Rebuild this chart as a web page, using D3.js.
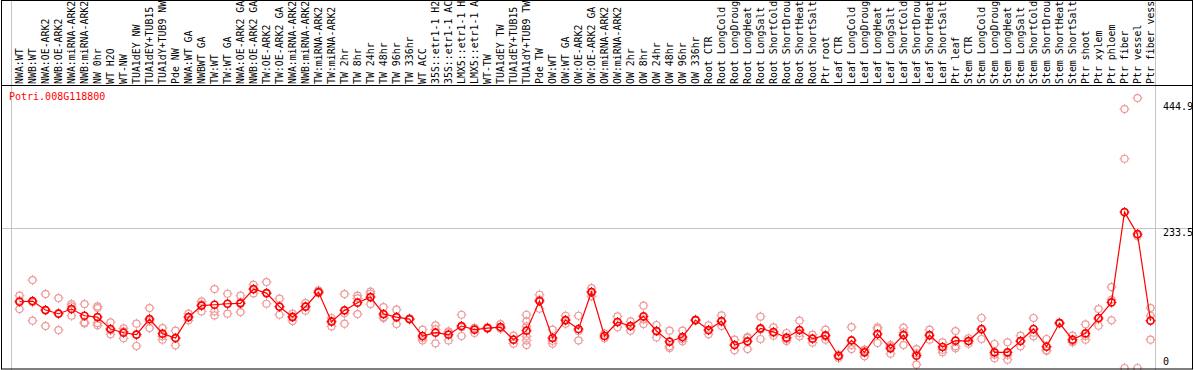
<!DOCTYPE html>
<html>
<head>
<meta charset="utf-8">
<script src="https://cdn.jsdelivr.net/npm/d3@7"></script>
<style>
  body { margin: 0; background: #fff; }
  svg { display: block; }
  .col-label, .axis-label, .title { font-family: "DejaVu Sans Mono", monospace; font-size: 10px; }
  .col-label { font-size: 9.9px; }
</style>
</head>
<body>
<svg id="chart"></svg>
<script>
const geneId = "Potri.008G118800";

const labels = [
  "NWA:WT", "NWB:WT", "NWA:OE-ARK2", "NWB:OE-ARK2", "NWA:miRNA-ARK2", "NWB:miRNA-ARK2",
  "NW 0hr", "WT H2O", "WT-NW", "TUA1dEY NW", "TUA1dEY+TUB15 NW", "TUA1dY+TUB9 NW", "Pde NW",
  "NWA:WT GA", "NWBWT GA", "TW:WT", "TW:WT GA", "NWA:OE-ARK2 GA", "NWB:OE-ARK2 GA",
  "TW:OE-ARK2", "TW:OE-ARK2 GA", "NWA:miRNA-ARK2 GA", "NWB:miRNA-ARK2 GA", "TW:miRNA-ARK2",
  "TW:miRNA-ARK2 GA", "TW 2hr", "TW 8hr", "TW 24hr", "TW 48hr", "TW 96hr", "TW 336hr",
  "WT ACC", "35S::etr1-1 H2O", "35S::etr1-1 ACC", "LMX5::etr1-1 H2O", "LMX5::etr1-1 ACC",
  "WT-TW", "TUA1dEY TW", "TUA1dEY+TUB15 TW", "TUA1dY+TUB9 TW", "Pde TW",
  "OW:WT", "OW:WT GA", "OW:OE-ARK2", "OW:OE-ARK2 GA", "OW:miRNA-ARK2", "OW:miRNA-ARK2 GA",
  "OW 2hr", "OW 8hr", "OW 24hr", "OW 48hr", "OW 96hr", "OW 336hr",
  "Root CTR", "Root LongCold", "Root LongDrought", "Root LongHeat", "Root LongSalt",
  "Root ShortCold", "Root ShortDrought", "Root ShortHeat", "Root ShortSalt", "Ptr root",
  "Leaf CTR", "Leaf LongCold", "Leaf LongDrought", "Leaf LongHeat", "Leaf LongSalt",
  "Leaf ShortCold", "Leaf ShortDrought", "Leaf ShortHeat", "Leaf ShortSalt", "Ptr leaf",
  "Stem CTR", "Stem LongCold", "Stem LongDrought", "Stem LongHeat", "Stem LongSalt",
  "Stem ShortCold", "Stem ShortDrought", "Stem ShortHeat", "Stem ShortSalt", "Ptr shoot",
  "Ptr xylem", "Ptr phloem", "Ptr fiber", "Ptr vessel", "Ptr fiber vessel"
];

// number of samples in each experiment block (separated by grey lines)
const groupSizes = [13, 28, 12, 10, 10, 11, 1, 1, 1, 1];

const means = [
  110.8, 112.0, 96.9, 90.8, 98.6, 87.4, 85.2, 65.2, 59.0, 55.7, 81.9, 57.4, 50.1,
  85.2, 104.2, 105.8, 107.5, 108.1, 132.0, 125.3, 102.5, 85.2, 102.5, 127.0, 77.4,
  96.4, 109.2, 118.6, 90.2, 85.2, 81.9, 53.5, 59.0, 55.7, 70.2, 64.1, 66.8, 68.5,
  47.3, 62.4, 112.0,
  50.1, 80.2, 65.2, 127.0, 53.5, 76.9, 70.2, 86.3, 61.8, 44.0, 51.8, 80.2,
  63.5, 78.5, 38.4, 44.6, 66.3, 60.2, 50.7, 63.5, 49.0, 54.6,
  20.1, 46.2, 26.2, 56.8, 32.9, 55.1, 20.6, 55.1, 35.1, 45.7,
  45.1, 65.2, 26.2, 26.2, 45.1, 65.2, 35.6, 75.2, 47.3, 57.9, 83.6,
  109.7, 260.7, 223.9, 79.1
];

const replicates = [
  [120.9, 98.6, 112.8], [147.0, 79.1, 109.9], [123.7, 70.2, 96.8], [117.0, 63.5, 91.9],
  [106.9, 103.0, 87.4], [106.9, 76.3, 74.6], [103.0, 100.3, 75.2, 71.3], [76.3, 56.3, 63.0],
  [66.3, 49.6, 61.1], [74.1, 36.8, 56.2], [100.3, 66.8, 78.6], [66.8, 52.9, 47.3],
  [62.4, 37.9, 50.0],
  [90.8, 79.7, 85.1], [111.4, 94.7, 106.5], [132.0, 94.7, 88.0], [124.2, 90.8, 107.5],
  [120.9, 93.6, 109.8], [139.3, 124.8, 132.0], [143.7, 107.5, 124.8], [115.9, 89.1, 102.5],
  [90.8, 78.5, 86.3], [108.6, 95.8, 103.0], [129.8, 126.0, 125.0], [83.6, 69.6, 79.0],
  [123.7, 74.1, 91.4], [120.9, 90.2, 116.5], [127.6, 124.2, 106.9], [101.9, 85.2, 83.5],
  [97.5, 73.5, 84.6], [83.0, 81.0, 82.0], [64.1, 46.2, 50.2], [71.3, 41.2, 64.5],
  [61.3, 46.2, 59.6], [89.1, 53.5, 68.0], [66.8, 58.5, 67.0], [68.0, 66.0, 66.5],
  [73.5, 66.0, 66.0], [54.0, 40.7, 47.2], [89.1, 78.0, 69.6, 52.9, 46.2, 38.4],
  [122.5, 99.1, 114.4],
  [64.1, 40.7, 45.5], [87.4, 74.1, 79.0], [87.4, 46.2, 62.0], [133.7, 119.8, 127.5],
  [57.4, 49.6, 53.5], [86.3, 68.0, 76.4], [78.0, 62.4, 70.2], [104.2, 73.5, 81.2],
  [71.9, 51.2, 62.3], [62.4, 33.4, 36.2], [62.4, 44.6, 48.4], [80.0, 81.0, 79.6],
  [71.3, 56.3, 62.9], [88.0, 70.2, 77.3], [47.3, 29.5, 38.4], [51.8, 31.7, 50.3],
  [85.8, 48.5, 64.6], [68.0, 54.0, 58.6], [58.5, 45.1, 48.5], [79.1, 52.9, 58.5],
  [55.7, 42.3, 49.0], [64.1, 47.3, 52.4],
  [22.3, 16.7, 21.3], [68.5, 31.7, 38.4], [30.6, 19.5, 28.5], [68.0, 65.2, 41.8],
  [36.2, 24.0, 38.5], [67.4, 38.4, 59.5], [31.7, 5.6, 24.5], [64.1, 47.3, 54.0],
  [42.9, 30.6, 26.2], [61.8, 36.2, 32.9],
  [49.6, 40.7, 45.0], [83.6, 48.5, 63.5], [40.1, 16.2, 22.3], [42.9, 13.9, 21.8],
  [54.0, 36.2, 45.1], [83.6, 52.9, 59.1], [48.5, 29.5, 28.8], [75.2, 76.0, 74.4],
  [54.0, 42.9, 45.0], [73.0, 47.3, 53.4], [98.6, 70.7, 81.5],
  [135.4, 79.7, 114.0], [433.0, 350.0, 0], [451.4, 0, 220.3], [100.3, 87.4, 47.3]
];

const yTicks = [444.9, 233.5, 0];
const gridTicks = [233.5];

const W = 1194;
const H = 370;
const HEADER = 85;
const PLOT = { left: 11, right: 1155, top: 102, bottom: 368 };
const COLORS = { mean: "#ff0000", rep: "#ee9a9a", grid: "#c4c4c4", frame: "#000" };
// the header only has room for this many characters per label
const LABEL_CHARS = 14;

class ExpressionPlot {
  constructor({ el }) {
    this.el = el;
    this.init();
  }

  init() {
    this.svg = d3.select(this.el).attr("width", W).attr("height", H);
    this.x = d3
      .scaleBand()
      .domain(d3.range(labels.length))
      .range([PLOT.left, PLOT.right]);
    this.y = d3
      .scaleLinear()
      .domain([0, d3.max(yTicks)])
      .range([PLOT.bottom, PLOT.top]);
    this.cx = (i) => this.x(i) + 8.5;
    this.render();
  }

  render() {
    this.renderGrid();
    this.renderLabels();
    this.renderSeries();
    this.renderFrame();
  }

  renderGrid() {
    const bounds = [0].concat(d3.cumsum(groupSizes));
    this.svg
      .append("g")
      .selectAll("line")
      .data(bounds)
      .join("line")
      .attr("x1", (d) => (d < labels.length ? this.x(d) : PLOT.right) + 0.5)
      .attr("x2", (d) => (d < labels.length ? this.x(d) : PLOT.right) + 0.5)
      .attr("y1", 0)
      .attr("y2", H)
      .attr("stroke", COLORS.grid);

    this.svg
      .append("g")
      .selectAll("line")
      .data(gridTicks)
      .join("line")
      .attr("x1", 1)
      .attr("x2", W - 1)
      .attr("y1", (d) => Math.round(this.y(d)) + 0.5)
      .attr("y2", (d) => Math.round(this.y(d)) + 0.5)
      .attr("stroke", COLORS.grid);

    // right-hand value labels
    this.svg
      .append("g")
      .selectAll("text")
      .data(yTicks)
      .join("text")
      .attr("class", "axis-label")
      .attr("x", 1163)
      .attr("y", (d) => Math.min(this.y(d) + 8, 365))
      .text((d) => d);
  }

  renderLabels() {
    this.svg
      .append("g")
      .selectAll("text")
      .data(labels)
      .join("text")
      .attr("class", "col-label")
      .attr("transform", (d, i) => `translate(${this.cx(i) + 3},84) rotate(-90)`)
      .text((d) => d.slice(0, LABEL_CHARS).trimEnd());

    this.svg
      .append("text")
      .attr("class", "title")
      .attr("x", 9)
      .attr("y", 100)
      .attr("fill", COLORS.mean)
      .text(geneId);
  }

  marker(g, color, width) {
    const r = 3.5;
    g.append("circle")
      .attr("r", r)
      .attr("fill", "none")
      .attr("stroke", color)
      .attr("stroke-width", width);
    g.append("path")
      .attr("d", `M0,${-r - 1.5}V${-r}M0,${r}V${r + 1.5}M${-r - 1.5},0H${-r}M${r},0H${r + 1.5}`)
      .attr("stroke", color)
      .attr("stroke-width", 1);
  }

  renderSeries() {
    const reps = replicates.flatMap((vals, i) => vals.map((v) => ({ i, v })));
    this.svg
      .append("g")
      .selectAll("g")
      .data(reps)
      .join("g")
      .attr("transform", (d) => `translate(${this.cx(d.i)},${this.y(d.v)})`)
      .each((d, k, nodes) => this.marker(d3.select(nodes[k]), COLORS.rep, 1.2));

    const line = d3
      .line()
      .x((d, i) => this.cx(i))
      .y((d) => this.y(d));
    this.svg
      .append("path")
      .datum(means)
      .attr("d", line)
      .attr("fill", "none")
      .attr("stroke", COLORS.mean)
      .attr("stroke-width", 1.2);

    this.svg
      .append("g")
      .selectAll("g")
      .data(means)
      .join("g")
      .attr("transform", (d, i) => `translate(${this.cx(i)},${this.y(d)})`)
      .each((d, k, nodes) => this.marker(d3.select(nodes[k]), COLORS.mean, 1.7));
  }

  renderFrame() {
    this.svg
      .append("line")
      .attr("x1", 1)
      .attr("x2", W - 1)
      .attr("y1", HEADER + 0.5)
      .attr("y2", HEADER + 0.5)
      .attr("stroke", COLORS.frame);
    this.svg
      .append("rect")
      .attr("x", 1.5)
      .attr("y", 0.5)
      .attr("width", W - 3)
      .attr("height", H - 1.5)
      .attr("fill", "none")
      .attr("stroke", COLORS.frame);
  }
}

new ExpressionPlot({ el: "#chart" });
</script>
</body>
</html>
